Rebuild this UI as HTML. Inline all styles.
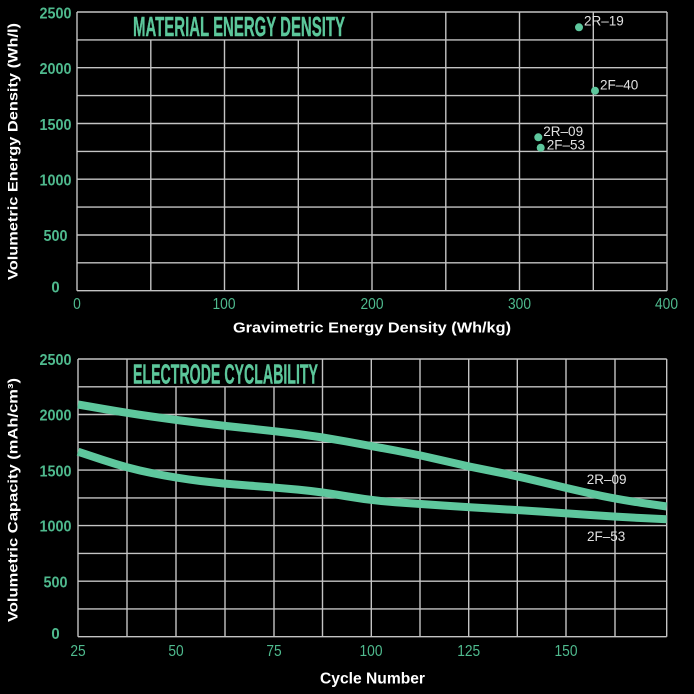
<!DOCTYPE html>
<html><head><meta charset="utf-8"><style>
html,body{margin:0;padding:0;background:#000;}
svg{display:block;}
</style></head><body>
<svg width="694" height="694" viewBox="0 0 694 694" xmlns="http://www.w3.org/2000/svg" font-family="Liberation Sans, sans-serif">
<rect width="694" height="694" fill="#000"/>
<g stroke="#c4c4c4" stroke-width="1.4" fill="none">
<!-- top chart grid -->
<line x1="77" y1="12" x2="667" y2="12"/>
<line x1="77" y1="39.9" x2="667" y2="39.9"/>
<line x1="77" y1="67.7" x2="667" y2="67.7"/>
<line x1="77" y1="95.6" x2="667" y2="95.6"/>
<line x1="77" y1="123.5" x2="667" y2="123.5"/>
<line x1="77" y1="151.4" x2="667" y2="151.4"/>
<line x1="77" y1="179.2" x2="667" y2="179.2"/>
<line x1="77" y1="207.1" x2="667" y2="207.1"/>
<line x1="77" y1="235" x2="667" y2="235"/>
<line x1="77" y1="262.8" x2="667" y2="262.8"/>
<line x1="77" y1="290.7" x2="667" y2="290.7"/>
<line x1="77" y1="12" x2="77" y2="290.7"/>
<line x1="150.8" y1="39.9" x2="150.8" y2="290.7"/>
<line x1="224.5" y1="39.9" x2="224.5" y2="290.7"/>
<line x1="298.3" y1="39.9" x2="298.3" y2="290.7"/>
<line x1="372" y1="12" x2="372" y2="290.7"/>
<line x1="445.8" y1="12" x2="445.8" y2="290.7"/>
<line x1="519.5" y1="12" x2="519.5" y2="290.7"/>
<line x1="593.3" y1="12" x2="593.3" y2="290.7"/>
<line x1="667" y1="12" x2="667" y2="290.7"/>
<!-- bottom chart grid -->
<line x1="78" y1="359" x2="666.7" y2="359"/>
<line x1="78" y1="386.8" x2="666.7" y2="386.8"/>
<line x1="78" y1="414.5" x2="666.7" y2="414.5"/>
<line x1="78" y1="442.3" x2="666.7" y2="442.3"/>
<line x1="78" y1="470.1" x2="666.7" y2="470.1"/>
<line x1="78" y1="497.9" x2="666.7" y2="497.9"/>
<line x1="78" y1="525.6" x2="666.7" y2="525.6"/>
<line x1="78" y1="553.4" x2="666.7" y2="553.4"/>
<line x1="78" y1="581.2" x2="666.7" y2="581.2"/>
<line x1="78" y1="608.9" x2="666.7" y2="608.9"/>
<line x1="78" y1="636.7" x2="666.7" y2="636.7"/>
<line x1="78" y1="359" x2="78" y2="636.7"/>
<line x1="127" y1="359" x2="127" y2="636.7"/>
<line x1="176" y1="386.8" x2="176" y2="636.7"/>
<line x1="225" y1="386.8" x2="225" y2="636.7"/>
<line x1="274" y1="386.8" x2="274" y2="636.7"/>
<line x1="322.5" y1="359" x2="322.5" y2="636.7"/>
<line x1="371.3" y1="359" x2="371.3" y2="636.7"/>
<line x1="420" y1="359" x2="420" y2="636.7"/>
<line x1="468.7" y1="359" x2="468.7" y2="636.7"/>
<line x1="517.3" y1="359" x2="517.3" y2="636.7"/>
<line x1="566" y1="359" x2="566" y2="636.7"/>
<line x1="615" y1="359" x2="615" y2="636.7"/>
<line x1="666.7" y1="359" x2="666.7" y2="636.7"/>
</g>

<!-- titles -->
<g fill="#5cc79b" font-weight="bold" font-size="28" stroke="#5cc79b" stroke-width="0.4">
<text x="133" y="36" textLength="212" lengthAdjust="spacingAndGlyphs">MATERIAL ENERGY DENSITY</text>
<text x="133" y="383.3" textLength="185" lengthAdjust="spacingAndGlyphs">ELECTRODE CYCLABILITY</text>
</g>

<!-- top y ticks -->
<g fill="#4fba8e" font-weight="bold" font-size="15.5" text-anchor="middle">
<text x="55.5" y="18.3" textLength="32" lengthAdjust="spacingAndGlyphs">2500</text>
<text x="55.5" y="74" textLength="32" lengthAdjust="spacingAndGlyphs">2000</text>
<text x="55.5" y="129.8" textLength="32" lengthAdjust="spacingAndGlyphs">1500</text>
<text x="55.5" y="185.5" textLength="32" lengthAdjust="spacingAndGlyphs">1000</text>
<text x="55.5" y="241.2" textLength="24" lengthAdjust="spacingAndGlyphs">500</text>
<text x="55.5" y="292.7" textLength="8.3" lengthAdjust="spacingAndGlyphs">0</text>
<!-- bottom y ticks -->
<text x="55.5" y="365" textLength="32" lengthAdjust="spacingAndGlyphs">2500</text>
<text x="55.5" y="420.7" textLength="32" lengthAdjust="spacingAndGlyphs">2000</text>
<text x="55.5" y="476.3" textLength="32" lengthAdjust="spacingAndGlyphs">1500</text>
<text x="55.5" y="531.7" textLength="32" lengthAdjust="spacingAndGlyphs">1000</text>
<text x="55.5" y="587.3" textLength="24" lengthAdjust="spacingAndGlyphs">500</text>
<text x="55.5" y="639" textLength="8.3" lengthAdjust="spacingAndGlyphs">0</text>
</g>

<!-- x ticks -->
<g fill="#4fba8e" font-size="15.5" text-anchor="middle">
<text x="77" y="309" textLength="7.7" lengthAdjust="spacingAndGlyphs">0</text>
<text x="224" y="309" textLength="23" lengthAdjust="spacingAndGlyphs">100</text>
<text x="372" y="309" textLength="23" lengthAdjust="spacingAndGlyphs">200</text>
<text x="519.5" y="309" textLength="23" lengthAdjust="spacingAndGlyphs">300</text>
<text x="666.5" y="309" textLength="23" lengthAdjust="spacingAndGlyphs">400</text>
<text x="78" y="656" textLength="15.3" lengthAdjust="spacingAndGlyphs">25</text>
<text x="176" y="656" textLength="15.3" lengthAdjust="spacingAndGlyphs">50</text>
<text x="274" y="656" textLength="15.3" lengthAdjust="spacingAndGlyphs">75</text>
<text x="371" y="656" textLength="23" lengthAdjust="spacingAndGlyphs">100</text>
<text x="468.7" y="656" textLength="23" lengthAdjust="spacingAndGlyphs">125</text>
<text x="566" y="656" textLength="23" lengthAdjust="spacingAndGlyphs">150</text>
</g>

<!-- axis titles -->
<g fill="#fff" font-weight="bold" font-size="14.5" text-anchor="middle">
<text x="372" y="332.5" textLength="278" lengthAdjust="spacingAndGlyphs">Gravimetric Energy Density (Wh/kg)</text>
<text x="372.5" y="683.3" font-size="15.5" textLength="105" lengthAdjust="spacingAndGlyphs">Cycle Number</text>
<text transform="translate(17.3,151.5) rotate(-90)" x="0" y="0" font-size="14" textLength="257" lengthAdjust="spacingAndGlyphs">Volumetric Energy Density (Wh/l)</text>
<text transform="translate(17.3,500) rotate(-90)" x="0" y="0" font-size="14" textLength="244" lengthAdjust="spacingAndGlyphs">Volumetric Capacity (mAh/cm³)</text>
</g>

<!-- scatter points -->
<g fill="#5ec79d">
<circle cx="579" cy="27.3" r="4"/>
<circle cx="595" cy="90.7" r="4"/>
<circle cx="538.3" cy="137.3" r="4"/>
<circle cx="540.7" cy="147.7" r="4"/>
</g>
<g fill="#e2e2e2" font-size="13.5">
<text x="584" y="25.5">2R–19</text>
<text x="600" y="89.3">2F–40</text>
<text x="543.3" y="136">2R–09</text>
<text x="546.7" y="149.3">2F–53</text>
</g>

<!-- curves -->
<g fill="none" stroke="#5ec79d" stroke-width="8" stroke-linejoin="round" stroke-linecap="butt">
<path d="M78,404.5 L102.5,408.75 Q127,413 151.5,416.5 Q176,420 200.5,423 Q225,426 249.5,428.5 Q274,431 298,434 Q322,437 346.5,441.5 Q371,446 395.5,450.5 Q420,455 444.5,460.85 Q469,466.7 493,471.35 Q517,476 541.5,482 Q566,488 590.5,493.5 Q615,499 640.85,502.75 L666.7,506.5"/>
<path d="M78,451.7 L102.5,459.85 Q127,468 151.5,473 Q176,478 200.5,481 Q225,484 249.5,485.65 Q274,487.3 298,489.65 Q322,492 346.5,496.25 Q371,500.5 395.5,502.25 Q420,504 444.5,505.65 Q469,507.3 493,508.65 Q517,510 541.5,511.65 Q566,513.3 590.5,515 Q615,516.7 640.85,518 L666.7,519.3"/>
</g>
<g fill="#e2e2e2" font-size="13.5">
<text x="586.7" y="484">2R–09</text>
<text x="587" y="541">2F–53</text>
</g>
</svg>
</body></html>
